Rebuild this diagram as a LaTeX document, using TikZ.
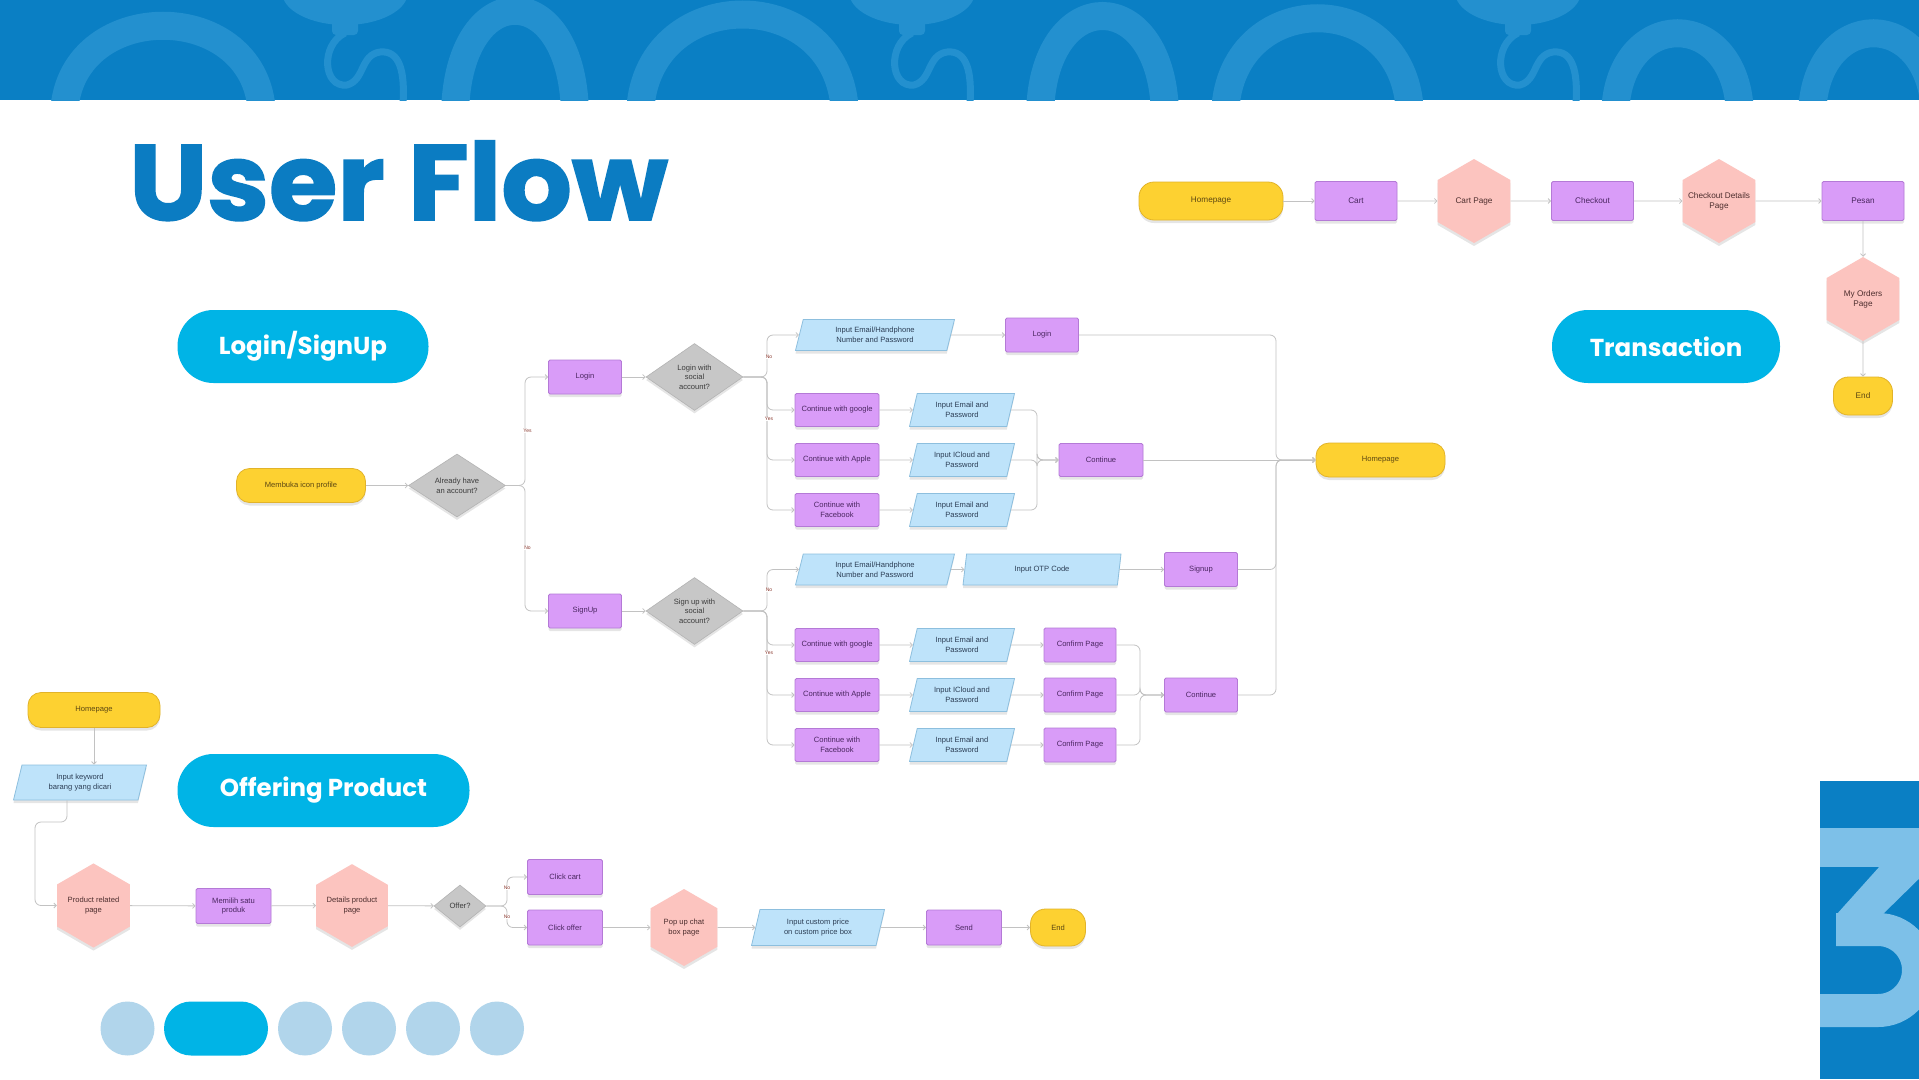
\documentclass[tikz,border=0pt]{standalone}
\usepackage{fontspec}
\setmainfont{Liberation Sans}
\newfontfamily\popfont{Poppins}
\newfontfamily\popheavy{Poppins}[BoldFeatures={FakeBold=1.6}]
\usetikzlibrary{shapes.geometric,arrows.meta,shadows,calc}
\definecolor{bannerblue}{HTML}{0A7FC4}
\definecolor{bannerlight}{HTML}{2390CF}
\definecolor{titleblue}{HTML}{0B7CC2}
\definecolor{pillcyan}{HTML}{00B4E6}
\definecolor{dotblue}{HTML}{B1D5EB}
\definecolor{threelight}{HTML}{7DC0E8}
\definecolor{yfill}{HTML}{FDD131}
\definecolor{ydraw}{HTML}{E2B329}
\definecolor{pfill}{HTML}{D99CF8}
\definecolor{pdraw}{HTML}{B47AD6}
\definecolor{bfill}{HTML}{BEE3FA}
\definecolor{bdraw}{HTML}{8DBFDE}
\definecolor{hfill}{HTML}{FCC4BF}
\definecolor{gfill}{HTML}{C7C7C7}
\definecolor{gdraw}{HTML}{B3B3B3}
\definecolor{linegray}{HTML}{C2C2C2}
\definecolor{ptxt}{HTML}{4A2660}
\definecolor{ytxt}{HTML}{5C4712}
\definecolor{btxt}{HTML}{2C3E55}
\definecolor{htxt}{HTML}{4D2E2E}
\definecolor{gtxt}{HTML}{3C3C3C}
\definecolor{lbl}{HTML}{8A3A30}
\tikzset{
  base/.style={font=\fontsize{7.6}{9.6}\selectfont, align=center, inner sep=0pt,
    drop shadow={shadow xshift=0pt, shadow yshift=-3pt, opacity=0.10, fill=black}},
  term/.style={base, rectangle, rounded corners=13, fill=yfill, draw=ydraw, line width=0.8, text=ytxt},
  proc/.style={base, rectangle, rounded corners=1.5, fill=pfill, draw=pdraw, line width=0.8, text=ptxt},
  para/.style={base, trapezium, trapezium left angle=63, trapezium right angle=117,
    trapezium stretches body, fill=bfill, draw=bdraw, line width=0.8, text=btxt},
  hexa/.style={base, regular polygon, regular polygon sides=6, shape border rotate=30,
    fill=hfill, text=htxt},
  deci/.style={base, diamond, aspect=1.5, fill=gfill, draw=gdraw, line width=0.6, text=gtxt},
  trow/.style={font=\fontsize{8.2}{10}\selectfont},
  conn/.style={draw=linegray, line width=0.8, rounded corners=6,
    -{Straight Barb[length=2.5pt, width=5pt]}},
  lab/.style={font=\fontsize{5}{5.5}\selectfont, text=lbl, fill=white, inner sep=0.4pt},
  sect/.style={rectangle, rounded corners=36, fill=pillcyan, text=white,
    font=\popfont\bfseries\fontsize{24.5}{28}\selectfont, minimum height=73, inner sep=0pt},
  arch/.style={line width=28, draw=bannerlight},
}
\begin{document}
\begin{tikzpicture}[x=1pt, y=-1pt]
\useasboundingbox (0,0) rectangle (1919,1079);
\fill[white] (0,0) rectangle (1919,1079);

% ---------- banner ----------
\fill[bannerblue] (0,0) rectangle (1919,100);
\begin{scope}
\clip (0,0) rectangle (1919,100);
\foreach \xa/\xb/\yc in {64/262/-5, 455/575/-25, 640/845/-20, 1040/1165/-18, 1225/1410/-15, 1615/1740/5, 1812/1935/5}{
  \draw[arch] (\xa,118) .. controls (\xa,\yc) and (\xb,\yc) .. (\xb,118);
}
\foreach \xk in {345,912,1518}{
  \fill[bannerlight] (\xk,-8) ellipse [x radius=63, y radius=33];
  \fill[bannerlight, rounded corners=4] (\xk-13,15) rectangle (\xk+13,35);
  \draw[line width=7, bannerlight] (\xk,33) .. controls (\xk-25,45) and (\xk-22,88) .. (\xk+2,85)
    .. controls (\xk+20,80) and (\xk+15,55) .. (\xk+35,52)
    .. controls (\xk+55,50) and (\xk+60,72) .. (\xk+58,104);
}
\end{scope}

% ---------- title ----------
\node[anchor=base west, inner sep=0pt, text=titleblue, xscale=1.035, transform shape,
  font=\popheavy\bfseries\fontsize{107}{107}\selectfont] (title) at (129,220) {User Flow};

% ---------- section pills ----------
\node[sect, minimum width=251] (secls) at (303,346.5) {Login/SignUp};
\node[sect, minimum width=228] (sectr) at (1666,346.5) {Transaction};
\node[sect, minimum width=292] (secof) at (323.5,790.5) {Offering Product};

% ---------- page dots ----------
\fill[dotblue] (127.5,1028.5) circle (27pt);
\fill[pillcyan] (191,1001.5) -- (241,1001.5) arc[start angle=-90, end angle=90, radius=27] -- (191,1055.5) arc[start angle=90, end angle=270, radius=27] -- cycle;
\foreach \cx in {305,369,433,497}{
  \fill[dotblue] (\cx,1028.5) circle (27pt);
}

% ---------- corner block with 3 ----------
\fill[bannerblue] (1820,781) rectangle (1919,1079);
\begin{scope}
\clip (1820,781) rectangle (1919,1079);
\fill[threelight] (1815,828) rectangle (1930,867);
\fill[threelight] (1880,866) -- (1932,866) -- (1882,915) -- (1836,915) -- cycle;
\draw[line width=33, threelight] (1836,929.5) -- (1878,929.5)
  arc[start angle=-90, end angle=90, radius=40.5] -- (1810,1010.5);
\end{scope}

% ---------- Login / SignUp flow ----------
\node[term, minimum width=129, minimum height=34] (mb) at (301,485.5) {Membuka icon profile};
\node[deci, minimum width=97, minimum height=63] (d1) at (457,485.5) {Already have\\an account?};
\node[proc, minimum width=73, minimum height=34] (login1) at (585,377) {Login};
\node[proc, minimum width=73, minimum height=34] (signup1) at (585,611) {SignUp};
\node[deci, minimum width=97, minimum height=67] (d2) at (694.5,377) {Login with\\social\\account?};
\node[deci, minimum width=97, minimum height=67] (d3) at (694.5,611) {Sign up with\\social\\account?};

\node[para, minimum width=159, minimum height=31] (lp1) at (875,335) {Input Email/Handphone\\Number and Password};
\node[proc, minimum width=73, minimum height=34] (login2) at (1042,335) {Login};
\node[proc, minimum width=84, minimum height=33] (cg1) at (837,410) {Continue with google};
\node[proc, minimum width=84, minimum height=33] (ca1) at (837,460) {Continue with Apple};
\node[proc, minimum width=84, minimum height=33] (cf1) at (837,510) {Continue with\\Facebook};
\node[para, minimum width=105, minimum height=33] (pe1) at (962,410) {Input Email and\\Password};
\node[para, minimum width=105, minimum height=33] (pi1) at (962,460) {Input ICloud and\\Password};
\node[para, minimum width=105, minimum height=33] (pf1) at (962,510) {Input Email and\\Password};
\node[proc, minimum width=84, minimum height=33] (cont1) at (1101,460) {Continue};
\node[term, minimum width=129, minimum height=34] (home1) at (1380.5,460) {Homepage};

\node[para, minimum width=159, minimum height=31] (sp1) at (875,569.5) {Input Email/Handphone\\Number and Password};
\node[para, minimum width=158, minimum height=31] (otp) at (1042,569.5) {Input OTP Code};
\node[proc, minimum width=73, minimum height=34] (signup2) at (1201,569.5) {Signup};
\node[proc, minimum width=84, minimum height=33] (cg2) at (837,645) {Continue with google};
\node[proc, minimum width=84, minimum height=33] (ca2) at (837,695) {Continue with Apple};
\node[proc, minimum width=84, minimum height=33] (cf2) at (837,745) {Continue with\\Facebook};
\node[para, minimum width=105, minimum height=33] (pe2) at (962,645) {Input Email and\\Password};
\node[para, minimum width=105, minimum height=33] (pi2) at (962,695) {Input ICloud and\\Password};
\node[para, minimum width=105, minimum height=33] (pf2) at (962,745) {Input Email and\\Password};
\node[proc, minimum width=72, minimum height=34] (cp1) at (1080,645) {Confirm Page};
\node[proc, minimum width=72, minimum height=34] (cp2) at (1080,695) {Confirm Page};
\node[proc, minimum width=72, minimum height=34] (cp3) at (1080,745) {Confirm Page};
\node[proc, minimum width=73, minimum height=34] (cont2) at (1201,695) {Continue};

\coordinate (s1) at (525,485.5);
\coordinate (s2) at (767,377);
\coordinate (s3) at (767,611);
\coordinate (m1) at (1037,460);
\coordinate (m2) at (1276,460);
\coordinate (m3) at (1140,695);

\draw[conn] (mb) -- (d1);
\draw[conn] (d1.east) -- (s1) |- (login1.west);
\draw[conn] (d1.east) -- (s1) |- (signup1.west);
\draw[conn] (login1) -- (d2);
\draw[conn] (signup1) -- (d3);
\foreach \t in {lp1,cg1,ca1,cf1}{\draw[conn] (d2.east) -- (s2) |- (\t.west);}
\foreach \t in {sp1,cg2,ca2,cf2}{\draw[conn] (d3.east) -- (s3) |- (\t.west);}
\draw[conn] (lp1) -- (login2);
\draw[conn] (cg1) -- (pe1);
\draw[conn] (ca1) -- (pi1);
\draw[conn] (cf1) -- (pf1);
\foreach \t in {pe1,pi1,pf1}{\draw[conn] (\t.east) -| (m1) -- (cont1.west);}
\draw[conn] (cont1) -- (home1);
\foreach \t in {login2,signup2,cont2}{\draw[conn] (\t.east) -| (m2) -- (home1.west);}
\draw[conn] (sp1) -- (otp);
\draw[conn] (otp) -- (signup2);
\draw[conn] (cg2) -- (pe2);
\draw[conn] (ca2) -- (pi2);
\draw[conn] (cf2) -- (pf2);
\draw[conn] (pe2) -- (cp1);
\draw[conn] (pi2) -- (cp2);
\draw[conn] (pf2) -- (cp3);
\foreach \t in {cp1,cp2,cp3}{\draw[conn] (\t.east) -| (m3) -- (cont2.west);}

\node[lab] (l1) at (527.5,431) {Yes};
\node[lab] (l2) at (527.5,548) {No};
\node[lab] (l3) at (769,357) {No};
\node[lab] (l4) at (769,419) {Yes};
\node[lab] (l5) at (769,590) {No};
\node[lab] (l6) at (769,653) {Yes};

% ---------- Transaction flow ----------
\node[term, trow, minimum width=144, minimum height=38, rounded corners=15] (th) at (1211,201) {Homepage};
\node[proc, trow, minimum width=82, minimum height=39] (tcart) at (1356,201) {Cart};
\node[hexa, trow, minimum size=84] (tcp) at (1474,201) {Cart Page};
\node[proc, trow, minimum width=82, minimum height=39] (tck) at (1592.5,201) {Checkout};
\node[hexa, trow, minimum size=84, inner sep=-7pt] (tcd) at (1719,201) {Checkout Details\\Page};
\node[proc, trow, minimum width=82, minimum height=39] (tps) at (1863,201) {Pesan};
\node[hexa, trow, minimum size=84] (tmo) at (1863,299) {My Orders\\Page};
\node[term, trow, minimum width=59, minimum height=38, rounded corners=15] (tend) at (1863,396) {End};

\draw[conn] (th) -- (tcart);
\draw[conn] (tcart) -- (tcp);
\draw[conn] (tcp) -- (tck);
\draw[conn] (tck) -- (tcd);
\draw[conn] (tcd) -- (tps);
\draw[conn] (tps) -- (tmo);
\draw[conn] (tmo) -- (tend);

% ---------- Offering Product flow ----------
\node[term, minimum width=132, minimum height=35] (oh) at (94,710) {Homepage};
\node[para, minimum width=133, minimum height=35] (ok) at (80,782.5) {Input keyword\\barang yang dicari};
\node[hexa, minimum size=78] (opr) at (93.5,905.5) {Product related\\page};
\node[proc, minimum width=75, minimum height=35] (omem) at (233.5,906) {Memilih satu\\produk};
\node[hexa, minimum size=78] (odp) at (352,905.5) {Details product\\page};
\node[deci, minimum width=52, minimum height=42] (oofr) at (460,906) {Offer?};
\node[proc, minimum width=75, minimum height=35] (occ) at (565,877) {Click cart};
\node[proc, minimum width=75, minimum height=35] (oco) at (565,927.5) {Click offer};
\node[hexa, minimum size=77] (opop) at (684,927.5) {Pop up chat\\box page};
\node[para, minimum width=133, minimum height=36] (ocp) at (818,927.5) {Input custom price\\on custom price box};
\node[proc, minimum width=75, minimum height=35] (osend) at (964,927.5) {Send};
\node[term, minimum width=55, minimum height=37, rounded corners=15] (oend) at (1058,927.5) {End};

\coordinate (k1) at (67,822);
\coordinate (k2) at (35,822);
\coordinate (s4) at (507,906);
\draw[conn] (oh.south) -- (oh.south |- ok.north);
\draw[conn] (ok.south -| k1) -- (k1) -- (k2) |- (opr.west);
\draw[conn] (opr) -- (omem);
\draw[conn] (omem) -- (odp);
\draw[conn] (odp) -- (oofr);
\draw[conn] (oofr.east) -- (s4) |- (occ.west);
\draw[conn] (oofr.east) -- (s4) |- (oco.west);
\draw[conn] (oco) -- (opop);
\draw[conn] (opop) -- (ocp);
\draw[conn] (ocp) -- (osend);
\draw[conn] (osend) -- (oend);
\node[lab] (l7) at (507,888) {No};
\node[lab] (l8) at (507,917) {No};
\end{tikzpicture}
\end{document}
